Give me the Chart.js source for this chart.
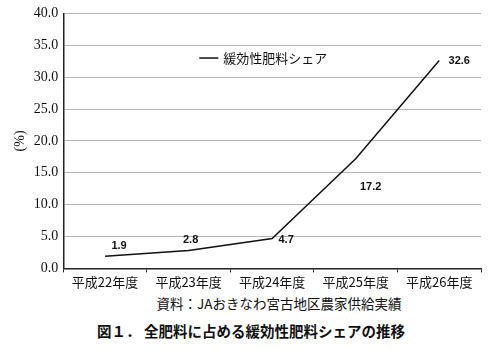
<!DOCTYPE html>
<html>
<head>
<meta charset="utf-8">
<script src="https://cdn.jsdelivr.net/npm/chart.js@4"></script>
<style>
  body { margin: 0; background: #fff; }
  #wrap { position: relative; width: 500px; height: 349px; }
  #box { position: absolute; left: 0; top: 0; width: 500px; height: 292px; }
  .cap { position: absolute; left: 0; width: 500px; text-align: center; color: #111;
         font-family: "Noto Sans CJK JP", sans-serif; }
  #src { top: 293px; font-size: 13.5px; padding-left: 58px; box-sizing: border-box; }
  #fig { top: 320px; font-size: 14.5px; font-weight: bold; padding-left: 2px; box-sizing: border-box; }
</style>
</head>
<body>
<div id="wrap">
  <div id="box"><canvas id="shareChart"></canvas></div>
  <div class="cap" id="src">資料：JAおきなわ宮古地区農家供給実績</div>
  <div class="cap" id="fig">図１． 全肥料に占める緩効性肥料シェアの推移</div>
</div>
<script>
// Data
const years = ['平成22年度', '平成23年度', '平成24年度', '平成25年度', '平成26年度'];
const shareValues = [1.9, 2.8, 4.7, 17.2, 32.6];
const seriesName = '緩効性肥料シェア';
// label offset per point (dx, dy) relative to the point
const labelOffsets = [[14, -10], [2, -11], [14, 2], [15, 28], [20, 0]];

const numFont = '"Liberation Serif", serif';
const jpFont = '"Noto Sans CJK JP", sans-serif';

// values next to each point
const valueLabels = {
    id: 'valueLabels',
    afterDatasetsDraw(chart) {
        const ctx = chart.ctx;
        const meta = chart.getDatasetMeta(0);
        ctx.save();
        ctx.font = 'bold 11px "Liberation Sans", Arial, sans-serif';
        ctx.fillStyle = '#111';
        ctx.textAlign = 'center';
        ctx.textBaseline = 'middle';
        meta.data.forEach(function(pt, i) {
            const off = labelOffsets[i];
            ctx.fillText(shareValues[i].toFixed(1), pt.x + off[0], pt.y + off[1]);
        });
        ctx.restore();
    }
};

// legend inside the plot area
const innerLegend = {
    id: 'innerLegend',
    afterDraw(chart) {
        const ctx = chart.ctx;
        const area = chart.chartArea;
        const x = area.left + 136;
        const y = chart.scales.y.getPixelForValue(33);
        ctx.save();
        ctx.strokeStyle = '#111';
        ctx.lineWidth = 1.5;
        ctx.beginPath();
        ctx.moveTo(x, y);
        ctx.lineTo(x + 19, y);
        ctx.stroke();
        ctx.font = '13px ' + jpFont;
        ctx.fillStyle = '#111';
        ctx.textBaseline = 'middle';
        ctx.fillText(seriesName, x + 24, y);
        ctx.restore();
    }
};

new Chart(document.getElementById('shareChart'), {
    type: 'line',
    data: {
        labels: years,
        datasets: [{
            label: seriesName,
            data: shareValues,
            borderColor: '#111',
            borderWidth: 1.5,
            pointRadius: 0,
            tension: 0,
            fill: false
        }]
    },
    options: {
        responsive: true,
        maintainAspectRatio: false,
        animation: false,
        layout: { padding: { top: 13, right: 19, left: 5, bottom: 0 } },
        plugins: {
            legend: { display: false },
            tooltip: { enabled: false }
        },
        scales: {
            x: {
                offset: true,
                grid: { offset: true, drawOnChartArea: false, drawTicks: true, tickLength: 4, color: '#222' },
                border: { color: '#222', width: 1.5 },
                ticks: { color: '#111', font: { family: jpFont, size: 13 }, padding: 2, maxRotation: 0 }
            },
            y: {
                min: 0,
                max: 40,
                grid: { color: '#b5b5b5', drawTicks: false },
                border: { color: '#222', width: 1.5 },
                ticks: {
                    stepSize: 5,
                    padding: 5,
                    color: '#111',
                    font: { family: numFont, size: 14 },
                    callback: function(v) { return v.toFixed(1); }
                },
                title: { display: true, text: '(%)', color: '#111', font: { family: numFont, size: 14 }, padding: { top: 7, bottom: 0 } }
            }
        }
    },
    plugins: [valueLabels, innerLegend]
});
</script>
</body>
</html>
